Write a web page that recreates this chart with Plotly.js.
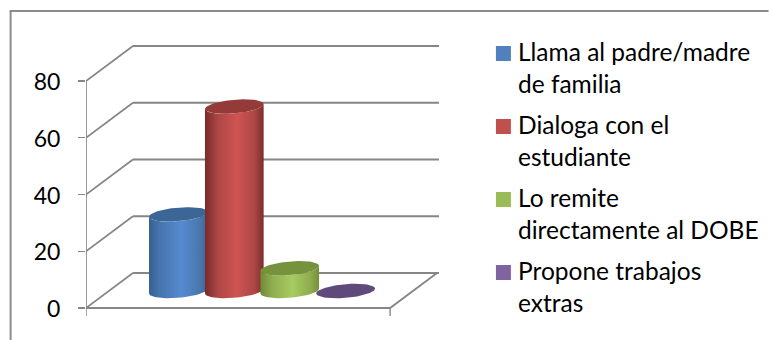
<!DOCTYPE html>
<html>
<head>
<meta charset="utf-8">
<script src="https://cdn.plot.ly/plotly-3.0.1.min.js"></script>
<style>html,body{margin:0;padding:0;background:#fff;overflow:hidden}</style>
</head>
<body>
<div id="chart" style="width:769px;height:340px"></div>
<script>
// ---- data ----
var seriesNames = ['Llama al padre/madre<br>de familia', 'Dialoga con el<br>estudiante', 'Lo remite<br>directamente al DOBE', 'Propone trabajos<br>extras'];
var seriesValues = [27, 65, 8, 0];
var yTicks = [0, 20, 40, 60, 80];
var swatchColors = ['#4f81bd', '#c0504d', '#9bbb59', '#8064a2'];
var capColors = ['#3c6695', '#943a38', '#76923c', '#604a7b'];
var bodyGradients = [
  [[0,'#366092'],[0.18,'#4674ad'],[0.55,'#568ad0'],[0.85,'#4a78b0'],[1,'#3c6695']],
  [[0,'#772b2a'],[0.22,'#ad4745'],[0.55,'#cf5452'],[0.85,'#ab4644'],[1,'#7a2d2c']],
  [[0,'#6f8a38'],[0.2,'#8fae50'],[0.55,'#a7cb60'],[0.85,'#8eac4f'],[1,'#748f3b']],
  [[0,'#604a7b'],[1,'#604a7b']]
];

// ---- geometry (pixels of the 3D projection) ----
var W = 769, H = 340;
var plotL = 85.5, plotR = 445, plotT = 40, plotB = 320;
var zeroY = 308, pxPerUnit = 2.8375;
var floorW = 304.5;                // front floor edge in px = 1 x unit
var depthX = 47, depthY = 35;      // wall offset
var wallRight = 439;
var centers = [178, 234, 289.5, 345.5];
var baseLift = 17, rx = 29.5, ry = 6.8, tilt = 5 * Math.PI / 180;
var legendTop = 37, legendPitch = 73, swatchX = 496, swatchSize = 15, legendTextX = 518;

var xOf = function (px) { return (px - plotL) / floorW; };
var dU = function (px) { return px / pxPerUnit; };
var axisColor = '#868686';

function ellipse(cx, val, t0, t1, n) {
  var xs = [], ys = [];
  for (var i = 0; i <= n; i++) {
    var t = t0 + (t1 - t0) * i / n;
    var ex = rx * Math.cos(t), ey = ry * Math.sin(t);
    var px = ex * Math.cos(tilt) + ey * Math.sin(tilt);
    var py = -ex * Math.sin(tilt) + ey * Math.cos(tilt);
    xs.push(xOf(cx + px));
    ys.push(val + dU(baseLift) - dU(py));
  }
  return {x: xs, y: ys};
}

var traces = [];
function line(xs, ys, w) {
  traces.push({type:'scatter', mode:'lines', x:xs, y:ys, showlegend:false, hoverinfo:'skip',
    cliponaxis:false, line:{color:axisColor, width:w}});
}

// walls and floor, one gridline per tick
yTicks.forEach(function (v) {
  var bx = xOf(plotL + depthX), rxx = xOf(wallRight), bv = v + dU(depthY);
  line([0, bx], [v, bv], 1.7);
  line([bx, rxx], [bv, bv], 2.2);
});
line([0, 0], [0, yTicks[yTicks.length - 1]], 1.7);
line([0, 1, xOf(plotL + floorW + depthX)], [0, 0, dU(depthY)], 1.8);
line([0, 0], [0, -dU(8)], 1.4);
line([1, 1], [0, -dU(8)], 1.4);

// cylinders, later series in front
seriesValues.forEach(function (v, i) {
  var cx = centers[i];
  if (v > 0) {
    var low = ellipse(cx, 0, Math.PI, 0, 40);
    var up = ellipse(cx, v, 0, Math.PI, 40);
    traces.push({type:'scatter', mode:'lines', name:seriesNames[i].replace('<br>', ' '),
      x: low.x.concat(up.x), y: low.y.concat(up.y),
      fill:'toself', fillgradient:{type:'horizontal', colorscale:bodyGradients[i]},
      line:{width:0}, showlegend:false, hoverinfo:'skip', cliponaxis:false});
  }
  var cap = ellipse(cx, v, 0, 2 * Math.PI, 60);
  traces.push({type:'scatter', mode:'lines', x:cap.x, y:cap.y, fill:'toself', fillcolor:capColors[i],
    line:{width:0}, showlegend:false, hoverinfo:'skip', cliponaxis:false});
});

var toPaperX = function (px) { return (px - plotL) / (plotR - plotL); };
var toPaperY = function (py) { return (plotB - py) / (plotB - plotT); };

var shapes = [
  {type:'line', xref:'paper', yref:'paper', x0:toPaperX(10), x1:toPaperX(10), y0:toPaperY(11), y1:toPaperY(340), line:{color:'#8c8c8c', width:2}},
  {type:'line', xref:'paper', yref:'paper', x0:toPaperX(9), x1:toPaperX(769), y0:toPaperY(11), y1:toPaperY(11), line:{color:'#8c8c8c', width:2}}
];
var annotations = [];
seriesNames.forEach(function (n, i) {
  var top = legendTop + i * legendPitch;
  shapes.push({type:'rect', xref:'paper', yref:'paper', x0:toPaperX(swatchX), x1:toPaperX(swatchX + swatchSize),
    y0:toPaperY(46 + i * legendPitch), y1:toPaperY(46 + swatchSize + i * legendPitch),
    fillcolor:swatchColors[i], line:{width:0}});
  annotations.push({xref:'paper', yref:'paper', x:toPaperX(legendTextX), y:toPaperY(top), xanchor:'left', yanchor:'top',
    align:'left', showarrow:false, text:n, borderpad:0, borderwidth:0,
    font:{family:'Lato, sans-serif', size:24.5, color:'#000000'}});
});

var layout = {
  width: W, height: H,
  paper_bgcolor: '#ffffff', plot_bgcolor: 'rgba(0,0,0,0)',
  showlegend: false,
  margin: {l: plotL, r: W - plotR, t: plotT, b: H - plotB, pad: 0},
  xaxis: {range: [0, (plotR - plotL) / floorW], visible: false, fixedrange: true},
  yaxis: {
    range: [-(plotB - zeroY) / pxPerUnit, (zeroY - plotT) / pxPerUnit],
    tickmode: 'array', tickvals: yTicks, ticktext: yTicks.map(String),
    ticks: 'outside', ticklen: 7, tickwidth: 1.4, tickcolor: axisColor,
    ticklabelstandoff: 13, ticklabelshift: 1,
    showgrid: false, zeroline: false, showline: false, fixedrange: true,
    tickfont: {family: 'Lato, sans-serif', size: 23, color: '#000000'}
  },
  shapes: shapes,
  annotations: annotations
};
Plotly.newPlot('chart', traces, layout, {displayModeBar: false, staticPlot: true});
</script>
</body>
</html>
